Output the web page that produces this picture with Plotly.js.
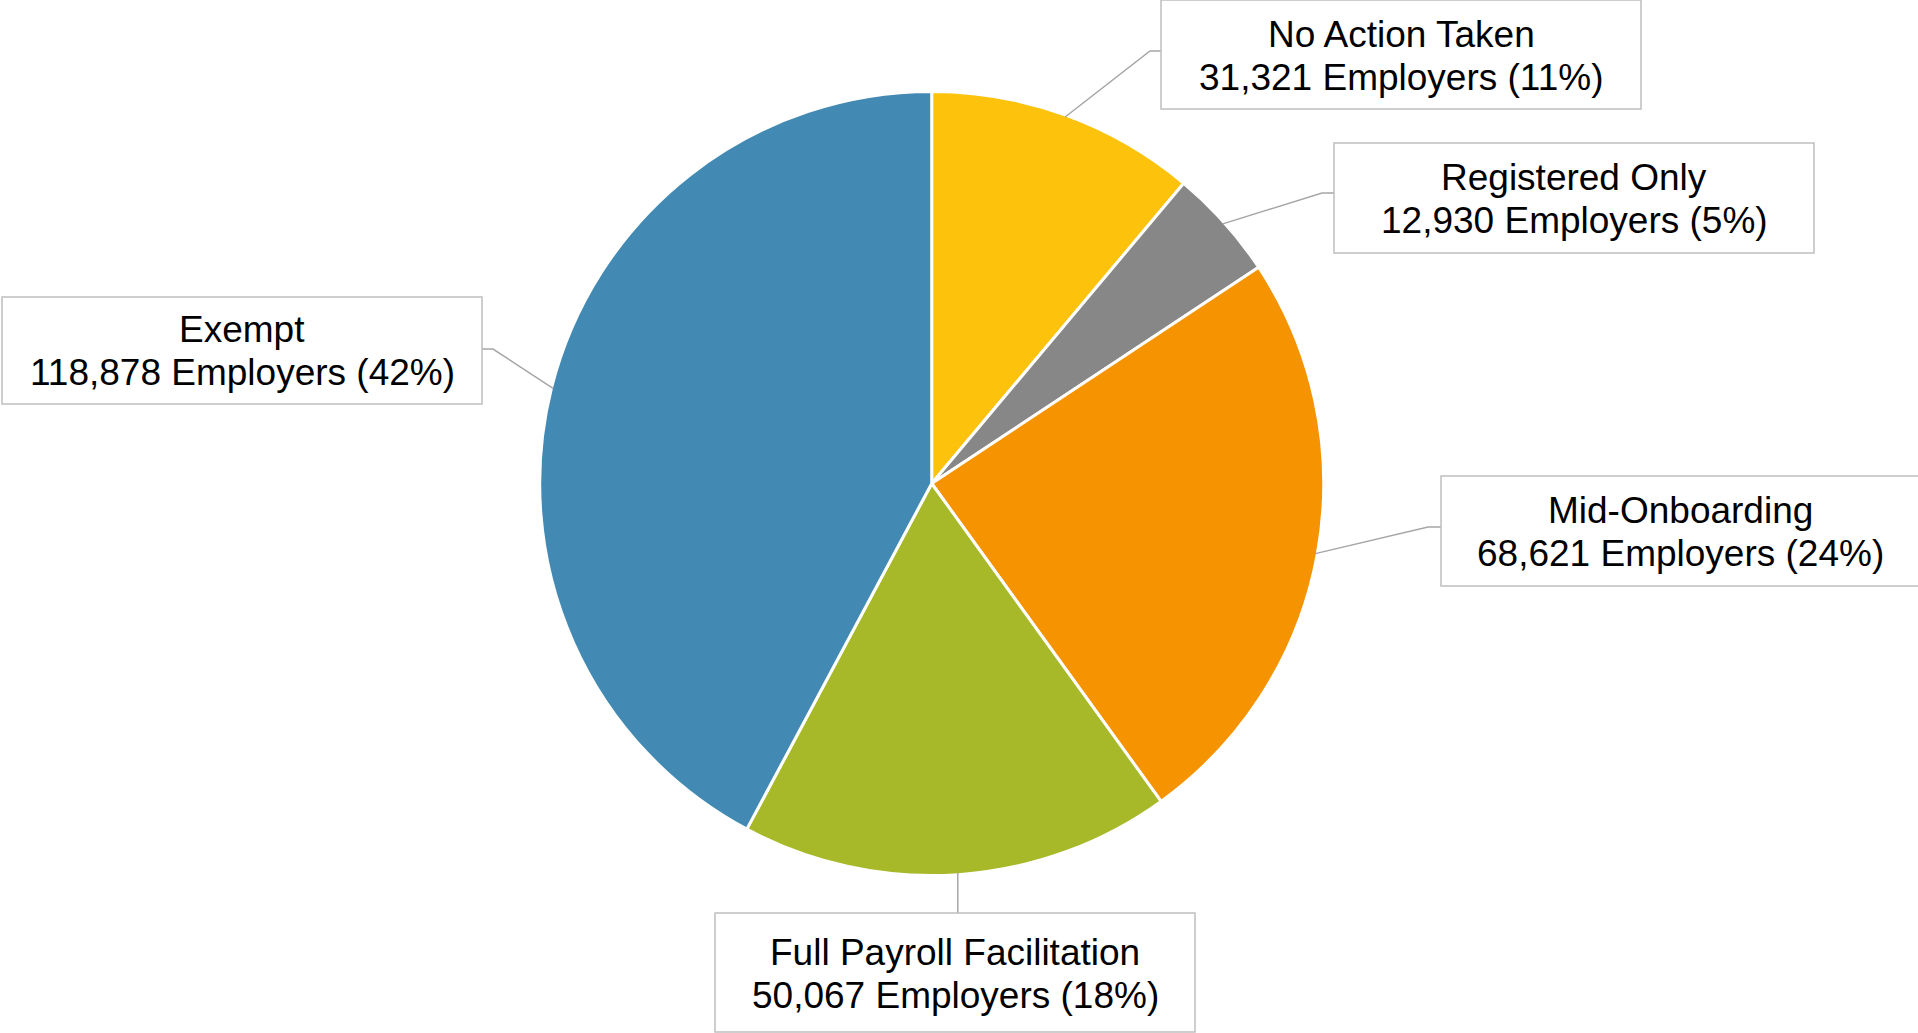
<!DOCTYPE html>
<html>
<head>
<meta charset="utf-8">
<script src="https://cdn.plot.ly/plotly-3.0.1.min.js"></script>
<style>html,body{margin:0;padding:0;background:#fff;}#chart{width:1918px;height:1033px;}</style>
</head>
<body>
<div id="chart"></div>
<script>
// ---- data ----
const categories = ["No Action Taken", "Registered Only", "Mid-Onboarding", "Full Payroll Facilitation", "Exempt"];
const employers = [31321, 12930, 68621, 50067, 118878];
const unitLabel = "Employers";

// ---- styles / layout ----
const sliceColors = ["#FDC20B", "#878787", "#F59300", "#A7B829", "#4289B3"];
const W = 1918, H = 1033;
const CX = 931.7, CY = 483.5, R = 390;         // pie centre & radius, px
const R_DOMAIN = 392;
// label boxes (px): left, top, width, height, text centre x ; elbow point of leader line
const boxes = [
  {x: 1161, y: 0,   w: 480, h: 109, tx: 1401, ex: 1150, ey: 51},
  {x: 1334, y: 143, w: 480, h: 110, tx: 1574, ex: 1322, ey: 193},
  {x: 1441, y: 476, w: 520, h: 110, tx: 1680, ex: 1428, ey: 527},
  {x: 715,  y: 913, w: 480, h: 119, tx: 955,  ex: null, ey: 913},
  {x: 2,    y: 297, w: 480, h: 107, tx: 242,  ex: 493,  ey: 349}
];
const LINE_GAP = 43;
const FONT = {family: "Liberation Sans, Arial, sans-serif", size: 37, color: "#000000"};

const px = v => v / W;
const py = v => 1 - v / H;

const total = employers.reduce((a, b) => a + b, 0);

const trace = {
  type: "pie",
  labels: categories,
  values: employers,
  sort: false,
  direction: "clockwise",
  rotation: 0,
  textinfo: "none",
  hoverinfo: "none",
  showlegend: false,
  marker: {colors: sliceColors, line: {color: "#FFFFFF", width: 3}},
  domain: {x: [px(CX - R_DOMAIN), px(CX + R_DOMAIN)], y: [py(CY + R_DOMAIN), py(CY - R_DOMAIN)]}
};

const shapes = [];
const annotations = [];
let cum = 0;
employers.forEach((v, i) => {
  const mid = (cum + v / 2) / total * 2 * Math.PI;
  cum += v;
  const sx = CX + R * Math.sin(mid);
  const sy = CY - R * Math.cos(mid);
  const b = boxes[i];
  let path;
  if (b.ex === null) {
    path = `M ${px(sx)},${py(sy)} L ${px(sx)},${py(b.y)}`;
  } else {
    const edgeX = (b.ex < b.x) ? b.x : b.x + b.w;
    path = `M ${px(sx)},${py(sy)} L ${px(b.ex)},${py(b.ey)} L ${px(edgeX)},${py(b.ey)}`;
  }
  shapes.push({type: "path", xref: "paper", yref: "paper", path: path,
               line: {color: "#A6A6A6", width: 1.5}});
  shapes.push({type: "rect", xref: "paper", yref: "paper",
               x0: px(b.x), x1: px(b.x + b.w), y0: py(b.y + b.h), y1: py(b.y),
               line: {color: "#BFBFBF", width: 1.5}, fillcolor: "#FFFFFF"});
  const pct = Math.round(v / total * 100);
  const lines = [categories[i], `${v.toLocaleString("en-US")} ${unitLabel} (${pct}%)`];
  const cyBox = b.y + b.h / 2 + 1;
  lines.forEach((t, k) => {
    annotations.push({
      xref: "paper", yref: "paper",
      x: px(b.tx), y: py(cyBox + (k === 0 ? -LINE_GAP / 2 : LINE_GAP / 2)),
      xanchor: "center", yanchor: "middle",
      showarrow: false, align: "center",
      text: t, font: FONT
    });
  });
});

const layout = {
  width: W, height: H,
  margin: {l: 0, r: 0, t: 0, b: 0},
  paper_bgcolor: "#FFFFFF",
  plot_bgcolor: "#FFFFFF",
  shapes: shapes,
  annotations: annotations
};

Plotly.newPlot("chart", [trace], layout, {displayModeBar: false, staticPlot: true});
</script>
</body>
</html>
